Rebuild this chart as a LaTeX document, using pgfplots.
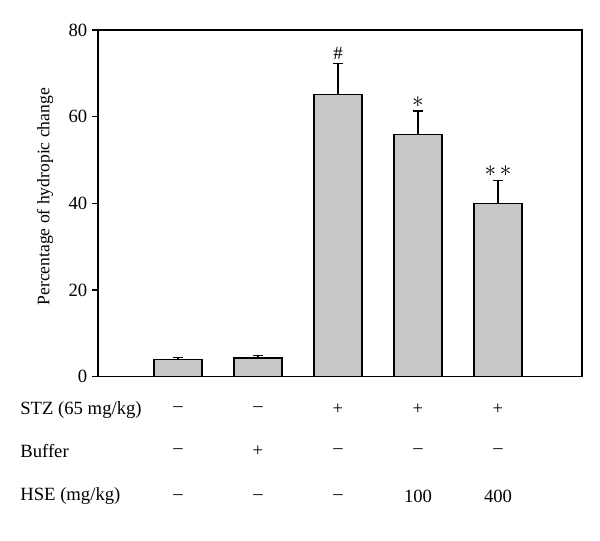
\documentclass[border=0pt]{standalone}
\usepackage{pgfplots}
\pgfplotsset{compat=1.18}
\usepackage{fontspec}
\setmainfont{Liberation Serif}
\definecolor{barfill}{RGB}{199,200,202}
\newcommand{\lf}{\fontsize{14}{16}\selectfont}
\begin{document}
\begin{tikzpicture}
\begin{axis}[
  scale only axis,
  width=363pt, height=260pt,
  xmin=0, xmax=6.05, ymin=0, ymax=80,
  ytick={0,20,40,60,80},
  xtick=\empty,
  ytick pos=left,
  tick align=outside,
  major tick length=4.5pt,
  axis line style={line width=0.9pt},
  every tick/.style={line width=0.9pt, black},
  tick label style={font=\lf},
  /pgf/number format/assume math mode=true,
  clip=false,
]
\addplot[ybar, bar width=0.6, fill=barfill, draw=black, line width=0.8pt,
  error bars/.cd, y dir=plus, y explicit,
  error bar style={line width=0.8pt, black},
  error mark options={rotate=90, mark size=4pt, line width=0.8pt}]
  table[x=x, y=y, y error=e] {
x y e
1 4.0 0.5
2 4.3 0.6
3 65.2 7.1
4 55.8 5.5
5 39.9 5.3
};
\node at (axis cs:3,74.7) {\lf\#};
\node at (axis cs:4,63.4) {\fontsize{18}{20}\selectfont$\ast$};
\node at (axis cs:5,47.4) {\fontsize{18}{20}\selectfont$\ast\,\ast$};
\node[rotate=90] at (rel axis cs:-0.1095,0.519) {\fontsize{13.2}{15}\selectfont Percentage of hydropic change};
\node[anchor=west, inner sep=0pt] at (rel axis cs:-0.161,-0.0951) {\lf STZ (65 mg/kg)};
\node[anchor=west, inner sep=0pt] at (rel axis cs:-0.161,-0.2133) {\lf Buffer};
\node[anchor=west, inner sep=0pt] at (rel axis cs:-0.161,-0.3458) {\lf HSE (mg/kg)};
\node at (axis cs:1,-7.6) {\lf --};
\node at (axis cs:2,-7.6) {\lf --};
\node at (axis cs:3,-7.6) {\lf +};
\node at (axis cs:4,-7.6) {\lf +};
\node at (axis cs:5,-7.6) {\lf +};
\node at (axis cs:1,-17.1) {\lf --};
\node at (axis cs:2,-17.1) {\lf +};
\node at (axis cs:3,-17.1) {\lf --};
\node at (axis cs:4,-17.1) {\lf --};
\node at (axis cs:5,-17.1) {\lf --};
\node at (axis cs:1,-27.7) {\lf --};
\node at (axis cs:2,-27.7) {\lf --};
\node at (axis cs:3,-27.7) {\lf --};
\node at (axis cs:4,-27.7) {\lf 100};
\node at (axis cs:5,-27.7) {\lf 400};
\coordinate (bl) at (rel axis cs:-0.2025,-0.4726);
\coordinate (tr) at (rel axis cs:1.0372,1.0865);
\end{axis}
\pgfresetboundingbox
\path[use as bounding box] (bl) rectangle (tr);
\end{tikzpicture}
\end{document}
